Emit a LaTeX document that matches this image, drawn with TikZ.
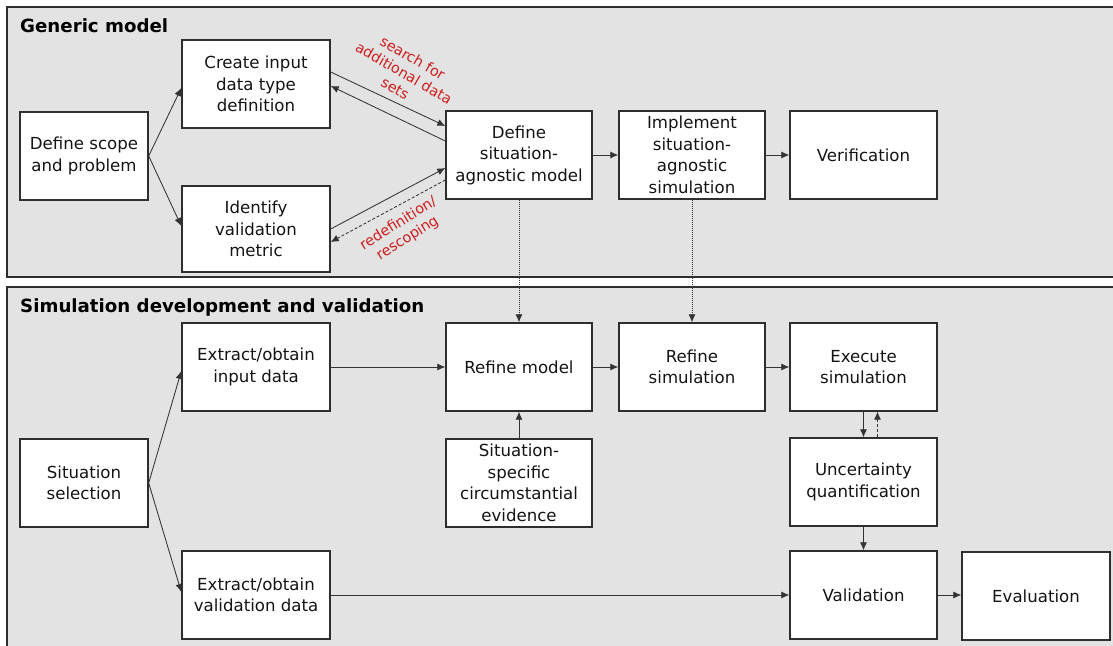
\documentclass[tikz,border=0pt]{standalone}
\usepackage{fontspec}
\setmainfont{DejaVu Sans}
\usetikzlibrary{arrows.meta,calc}
\definecolor{panelfill}{HTML}{E3E3E3}
\definecolor{edgecol}{HTML}{2E2E2E}
\definecolor{linecol}{HTML}{333333}
\definecolor{redlab}{HTML}{CC1E1E}
\begin{document}
\begin{tikzpicture}[x=1pt,y=-1pt,
  panel/.style={draw=edgecol,line width=1.6pt,fill=panelfill},
  title/.style={font=\fontsize{18.2}{21}\selectfont\bfseries,text=black,inner sep=0pt,anchor=base west},
  box/.style={draw=edgecol,line width=1.4pt,fill=white,inner sep=0pt,align=center,
    minimum width=147pt,minimum height=88pt,font=\fontsize{16.6}{21.5}\selectfont,text=black!92},
  narrow/.style={minimum width=128pt},
  arr/.style={draw=linecol,line width=0.85pt,-{Latex[length=8pt,width=7pt]}},
  back/.style={arr,dash pattern=on 3pt off 2pt},
  dotarr/.style={arr,dash pattern=on 1pt off 1pt},
  redlabel/.style={text=redlab,align=center,inner sep=0pt,font=\fontsize{14.4}{17.5}\selectfont}
]
\useasboundingbox (0,0) rectangle (1113,645);
\fill[white] (0,0) rectangle (1113,645);
% panels
\draw[panel] (7,7) rectangle (1130,277);
\draw[panel] (7,287) rectangle (1130,660);
\node[title] (t1) at (20,32) {Generic model};
\node[title] (t2) at (20,312) {Simulation development and validation};
% generic model boxes
\node[box,narrow] (scope) at (84,156) {Define scope\\and problem};
\node[box,minimum width=148pt] (create) at (256,84) {Create input\\data type\\definition};
\node[box,minimum width=148pt,minimum height=86pt] (ident) at (256,229) {Identify\\validation\\metric};
\node[box,minimum width=146pt] (agn) at (519,155) {Define\\situation-\\agnostic model};
\node[box,minimum width=146pt] (impl) at (692,155) {Implement\\situation-\\agnostic\\simulation};
\node[box] (verif) at (863.5,155) {Verification};
% simulation development boxes
\node[box,minimum width=148pt] (exin) at (256,367) {Extract/obtain\\input data};
\node[box,minimum width=146pt] (refm) at (519,367) {Refine model};
\node[box,minimum width=146pt] (refs) at (692,367) {Refine\\simulation};
\node[box] (exec) at (863.5,367) {Execute\\simulation};
\node[box,minimum width=146pt] (sspec) at (519,483) {Situation-\\specific\\circumstantial\\evidence};
\node[box,narrow] (ssel) at (84,483) {Situation\\selection};
\node[box] (unc) at (863.5,482) {Uncertainty\\quantification};
\node[box,minimum width=148pt] (exval) at (256,595) {Extract/obtain\\validation data};
\node[box] (val) at (863.5,595) {Validation};
\node[box,minimum width=148pt] (eval) at (1036,596) {Evaluation};
% connectors, generic model
\draw[arr] (scope.east) -- ($(create.west)+(0,4)$);
\draw[arr] (scope.east) -- ($(ident.west)+(0,-3)$);
\draw[arr] ($(create.east)+(0,-12)$) -- ($(agn.west)+(0,-29)$);
\draw[arr] ($(agn.west)+(0,-14)$) -- ($(create.east)+(0,2)$);
\draw[arr] (ident.east) -- ($(agn.west)+(0,13)$);
\draw[back] ($(agn.west)+(0,25)$) -- ($(ident.east)+(0,13)$);
\draw[arr] (agn.east) -- (impl.west);
\draw[arr] (impl.east) -- (verif.west);
\draw[dotarr] (agn.south) -- (refm.north);
\draw[dotarr] (impl.south) -- (refs.north);
% connectors, simulation development
\draw[arr] (ssel.east) -- ($(exin.west)+(0,4)$);
\draw[arr] (ssel.east) -- ($(exval.west)+(0,-3)$);
\draw[arr] (exin.east) -- (refm.west);
\draw[arr] (refm.east) -- (refs.west);
\draw[arr] (refs.east) -- (exec.west);
\draw[arr] (sspec.north) -- (refm.south);
\draw[arr] (exec.south) -- (unc.north);
\draw[back] ($(unc.north)+(14,0)$) -- ($(exec.south)+(14,0)$);
\draw[arr] (unc.south) -- (val.north);
\draw[arr] (exval.east) -- (val.west);
\draw[arr] (val.east) -- (val.east -| eval.west);
% red labels
\node[redlabel,rotate=-30] (lab1) at (404,73) {search for\\additional data\\sets};
\node[redlabel,rotate=32] (lab2) at (403,231) {redefinition/\\rescoping};
\end{tikzpicture}
\end{document}
